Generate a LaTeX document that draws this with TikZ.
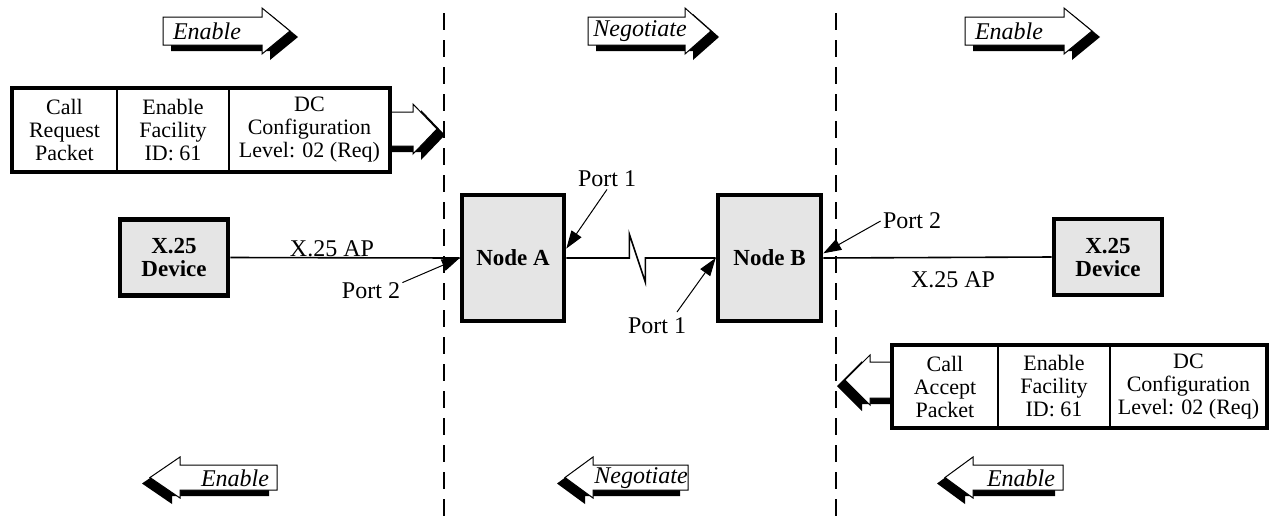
\documentclass[tikz,border=0pt]{standalone}
\usepackage{fontspec}
\setmainfont{Liberation Serif}
\usetikzlibrary{arrows.meta}

\tikzset{
  box/.style={draw, line width=2.3pt, fill=gray!20, inner sep=0pt, align=center,
    font=\fontsize{11.5}{11.5}\selectfont\bfseries},
  cell/.style={draw, fill=white, line width=0.7pt, inner sep=0pt, outer sep=0pt,
    align=center, font=\fontsize{11}{11.5}\selectfont},
  frame/.style={line width=2.3pt},
  link/.style={line width=0.8pt},
  divider/.style={line width=1.25pt, dash pattern=on 8.5pt off 5pt},
  portlbl/.style={inner sep=1pt, font=\fontsize{12}{12}\selectfont},
  portarrow/.style={line width=0.5pt, -{Triangle[length=9pt,width=6pt]}},
  albl/.style={inner sep=0pt, font=\fontsize{12}{12}\selectfont\itshape},
  apout/.style={draw=black, fill=white, line width=0.5pt, line join=miter},
}

% block arrow pointing right: left end, head base x, tip x, shaft top, shaft bottom, head overhang
\newcommand{\rblockarrow}[6]{%
  \fill[black, shift={(8,6)}] (#1,#4) -- (#2,#4) -- (#2,{#4-#6}) -- (#3,{(#4+#5)/2})
    -- (#2,{#5+#6}) -- (#2,#5) -- (#1,#5) -- cycle;
  \path[apout] (#1,#4) -- (#2,#4) -- (#2,{#4-#6}) -- (#3,{(#4+#5)/2})
    -- (#2,{#5+#6}) -- (#2,#5) -- (#1,#5) -- cycle;}
% block arrow pointing left: right end, head base x, tip x, shaft top, shaft bottom, head overhang
\newcommand{\lblockarrow}[6]{%
  \fill[black, shift={(-8,6)}] (#1,#4) -- (#2,#4) -- (#2,{#4-#6}) -- (#3,{(#4+#5)/2})
    -- (#2,{#5+#6}) -- (#2,#5) -- (#1,#5) -- cycle;
  \path[apout] (#1,#4) -- (#2,#4) -- (#2,{#4-#6}) -- (#3,{(#4+#5)/2})
    -- (#2,{#5+#6}) -- (#2,#5) -- (#1,#5) -- cycle;}

\begin{document}
\begin{tikzpicture}[x=0.5pt, y=-0.5pt]
\useasboundingbox (0,0) rectangle (1269,521);

% region dividers
\draw[divider] (444,13) -- (444,521);
\draw[divider] (836,13) -- (836,521);

% direction arrows, top row
\rblockarrow{163}{262}{290}{17}{45}{9}
\node[albl] (enTL) at (207,31) {Enable};
\rblockarrow{588}{685}{711}{17}{45}{9}
\node[albl] (negT) at (640,31) {Negotiate};
\rblockarrow{965}{1064}{1092}{17}{45}{9}
\node[albl] (enTR) at (1009,31) {Enable};

% direction arrows, bottom row
\lblockarrow{277}{180}{150}{465}{490}{8}
\node[albl] (enBL) at (235,478) {Enable};
\lblockarrow{688}{593}{565}{465}{490}{8}
\node[albl] (negB) at (641,478) {Negotiate};
\lblockarrow{1063}{973}{945}{465}{490}{8}
\node[albl] (enBR) at (1021,478) {Enable};

% call request packet
\rblockarrow{380}{413}{437}{112}{146}{8}
\node[cell, minimum width=52.5pt, minimum height=42pt] (reqA) at (64.5,130) {Call\\Request\\Packet};
\node[cell, minimum width=56pt, minimum height=42pt] (reqB) at (173,130) {Enable\\Facility\\ID: 61};
\node[cell, minimum width=80.5pt, minimum height=42pt] (reqC) at (309.5,130) {DC\\Configuration\\Level: 02 (Req)};
\draw[frame] (reqA.north west) rectangle (reqC.south east);

% call accept packet
\lblockarrow{900}{870}{845}{362}{398}{7}
\node[cell, minimum width=53pt, minimum height=41.5pt] (accA) at (945,386.5) {Call\\Accept\\Packet};
\node[cell, minimum width=56pt, minimum height=41.5pt] (accB) at (1054,386.5) {Enable\\Facility\\ID: 61};
\node[cell, minimum width=78.5pt, minimum height=41.5pt] (accC) at (1188.5,386.5) {DC\\Configuration\\Level: 02 (Req)};
\draw[frame] (accA.north west) rectangle (accC.south east);

% devices and nodes
\node[box, minimum width=54pt, minimum height=38pt] (devL) at (174,257.5) {X.25\\Device};
\node[box, minimum width=54pt, minimum height=38pt] (devR) at (1108,257) {X.25\\Device};
\node[box, minimum width=51pt, minimum height=63pt] (nodeA) at (513,258) {Node A};
\node[box, minimum width=51.5pt, minimum height=63pt] (nodeB) at (769.5,258) {Node B};

% links
\draw[link] (devL.east) -- (nodeA.west);
\draw[link] (nodeB.east) -- (devR.west);
\draw[link] (nodeA.east) -- ++(63,0) -- ++(0,-24) -- ++(16,48) -- ++(0,-24) -- (nodeB.west);

\node[portlbl] (apL) at (332,249) {X.25 AP};
\node[portlbl] (apR) at (953,280) {X.25 AP};

% port labels
\node[portlbl] (p2L) at (371,291) {Port 2};
\node[portlbl] (p1A) at (607,179) {Port 1};
\node[portlbl] (p1B) at (657,326) {Port 1};
\node[portlbl] (p2R) at (912,221) {Port 2};
\coordinate (p1Bs) at (677,312);

\draw[portarrow] (p2L.15) -- (nodeA.west);
\draw[portarrow] (p1A.south) -- (nodeA.10);
\draw[portarrow] (p1Bs) -- (nodeB.west);
\draw[portarrow] (p2R.west) -- (nodeB.5);
\end{tikzpicture}
\end{document}
